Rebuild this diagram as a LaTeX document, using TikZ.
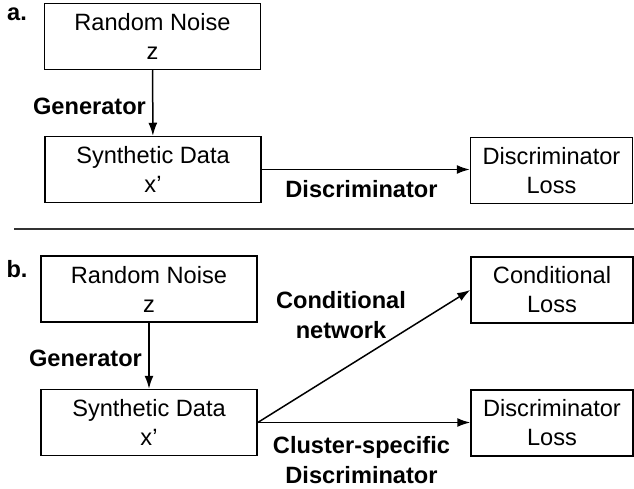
\documentclass[tikz,border=0pt]{standalone}
\usepackage{fontspec}
\setmainfont{Liberation Sans}
\usetikzlibrary{arrows.meta}

\begin{document}
\begin{tikzpicture}[x=1pt, y=-1pt,
  txt/.style={font=\fontsize{23.6}{29}\selectfont, align=center, inner sep=0pt},
  lbl/.style={txt, font=\fontsize{23.6}{30}\selectfont\bfseries},
  databox/.style={txt, draw, line width=1.5pt, minimum width=216pt, minimum height=66pt},
  lossbox/.style={txt, draw, line width=1.5pt, minimum width=162pt, minimum height=66pt},
  flow/.style={line width=1.5pt, -{Latex[length=13pt, width=9pt]}}]
\useasboundingbox (0,0) rectangle (634,489);

% panel a
\node[lbl] (la) at (17,14) {a.};
\node[databox] (noiseA) at (152.5,36.5) {Random Noise\\z};
\node[databox] (synA) at (153,169.5) {Synthetic Data\\x’};
\node[lossbox] (discA) at (551.5,170.5) {Discriminator\\Loss};
\node[lbl] (genA) at (89.5,106) {Generator};
\node[lbl] (dlabA) at (361.5,189) {Discriminator};
\draw[flow] (noiseA) -- (synA);
\draw[flow] (synA.east) -- (discA.west |- synA.east);

% separator
\coordinate (sepL) at (14,229);
\coordinate (sepR) at (634,229);
\draw[line width=1.8pt, black!80] (sepL) -- (sepR);

% panel b
\node[lbl] (lb) at (17,269) {b.};
\node[databox] (noiseB) at (149,289) {Random Noise\\z};
\node[databox] (synB) at (149,422.5) {Synthetic Data\\x’};
\node[lossbox] (condB) at (552,290) {Conditional\\Loss};
\node[lossbox] (discB) at (552,423) {Discriminator\\Loss};
\node[lbl] (genB) at (85.5,358) {Generator};
\node[lbl] (clab) at (341,315) {Conditional\\network};
\node[lbl] (dlabB) at (361.5,460) {Cluster-specific\\Discriminator};
\draw[flow] (noiseB) -- (synB);
\draw[flow] (synB.east) -- (condB.west);
\draw[flow] (synB.east) -- (discB.west |- synB.east);
\end{tikzpicture}
\end{document}
